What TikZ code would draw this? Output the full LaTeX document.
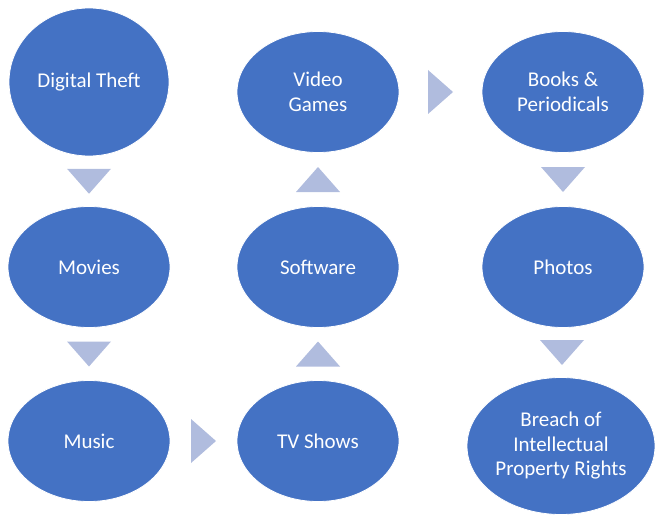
\documentclass[tikz,border=0pt]{standalone}
\usepackage{fontspec}
\setmainfont{Carlito}
\usetikzlibrary{shapes.geometric,calc}
\definecolor{bubbleblue}{RGB}{68,114,196}
\definecolor{chevblue}{RGB}{176,188,222}
\tikzset{
  bubble/.style={ellipse, fill=bubbleblue, draw=white, line width=.8pt,
    text=white, align=center, inner sep=0pt,
    minimum width=162, minimum height=121,
    font=\fontsize{21}{24.5}\selectfont},
  chev/.style={fill=chevblue}
}
% chevrons between bubbles
\newcommand{\chevdown}[1]{\fill[chev] ($(#1)+(-22,-12.5)$) -- ($(#1)+(22,-12.5)$) -- ($(#1)+(0,12.5)$) -- cycle;}
\newcommand{\chevup}[1]{\fill[chev] ($(#1)+(-22,12.5)$) -- ($(#1)+(22,12.5)$) -- ($(#1)+(0,-12.5)$) -- cycle;}
\newcommand{\chevright}[1]{\fill[chev] ($(#1)+(-12.5,-22)$) -- ($(#1)+(-12.5,22)$) -- ($(#1)+(12.5,0)$) -- cycle;}
\begin{document}
\begin{tikzpicture}[x=1pt, y=-1pt]
  \useasboundingbox (0,0) rectangle (655,516);
  % first column
  \node[bubble, minimum width=160, minimum height=148] (theft) at (89,82) {Digital Theft};
  \node[bubble] (movies) at (89,267) {Movies};
  \node[bubble] (music) at (89,441) {Music};
  % middle column
  \node[bubble] (tv) at (318,441) {TV Shows};
  \node[bubble] (soft) at (318,267) {Software};
  \node[bubble] (games) at (318,92) {Video\\Games};
  % last column
  \node[bubble] (books) at (563,92) {Books \&\\Periodicals};
  \node[bubble] (photos) at (563,267) {Photos};
  \node[bubble, minimum width=188, minimum height=137] (breach) at (561,446) {Breach of\\Intellectual\\Property Rights};

  \coordinate (c1) at ($(theft.south)!.5!(movies.north)$);
  \coordinate (c2) at ($(movies.south)!.5!(music.north)$);
  \coordinate (c3) at ($(music.east)!.5!(tv.west)$);
  \coordinate (c4) at ($(tv.north)!.5!(soft.south)$);
  \coordinate (c5) at ($(soft.north)!.5!(games.south)$);
  \coordinate (c6) at ($(games.east)!.5!(books.west)$);
  \coordinate (c7) at ($(books.south)!.5!(photos.north)$);
  \coordinate (c8) at ($(photos.south)!.5!(breach.north)$);

  \chevdown{c1}
  \chevdown{c2}
  \chevright{c3}
  \chevup{c4}
  \chevup{c5}
  \chevright{c6}
  \chevdown{c7}
  \chevdown{c8}
\end{tikzpicture}
\end{document}
